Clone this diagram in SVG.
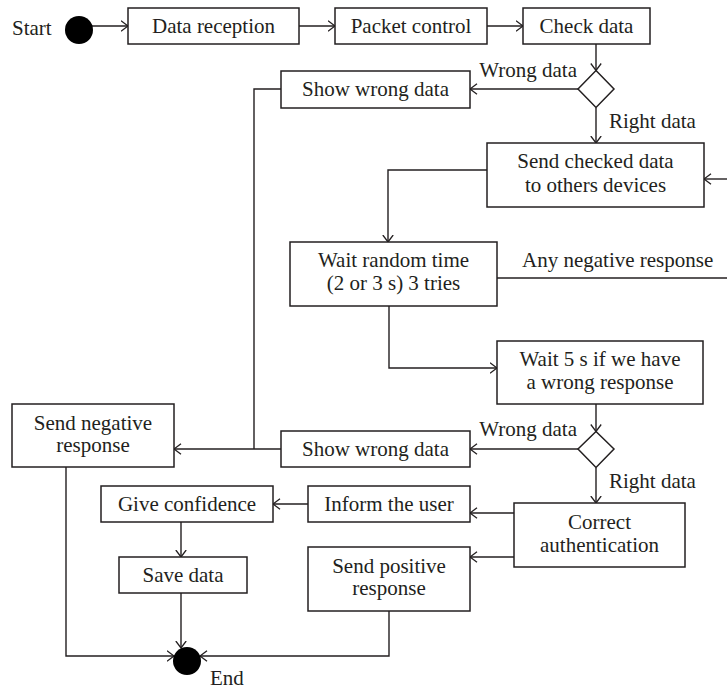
<svg xmlns="http://www.w3.org/2000/svg" width="727" height="690" viewBox="0 0 727 690">
  <defs>
    <marker id="arrow" viewBox="0 0 8 12" refX="7.5" refY="6" markerWidth="8" markerHeight="12" markerUnits="userSpaceOnUse" orient="auto">
      <path d="M0.5,0.8 L7.5,6 L0.5,11.2" fill="none" stroke="#231f20" stroke-width="1.3"/>
    </marker>
    <style>
      .box { fill: #ffffff; stroke: #231f20; stroke-width: 1.5; }
      .dot { fill: #000000; }
      .line { fill: none; stroke: #231f20; stroke-width: 1.4; }
      .arr { marker-end: url(#arrow); }
      text { font-family: "Liberation Serif", "Times New Roman", serif; font-size: 21px; fill: #231f20; }
      .c { text-anchor: middle; }
    </style>
  </defs>

  <rect width="727" height="690" fill="#ffffff"/>

  <!-- connectors -->
  <g id="connectors">
    <path class="line arr" d="M92,26 H128"/>
    <path class="line arr" d="M299,26 H335"/>
    <path class="line arr" d="M487,26 H523"/>
    <path class="line arr" d="M596,44 V70.5"/>
    <path class="line arr" d="M578,89 H470"/>
    <path class="line" d="M281,89 H254 V449"/>
    <path class="line arr" d="M596,107.5 V143"/>
    <path class="line arr" d="M727,179 H704"/>
    <path class="line arr" d="M487,170 H388 V242"/>
    <path class="line" d="M497,278 H727"/>
    <path class="line arr" d="M389,306 V368 H497"/>
    <path class="line arr" d="M596,404 V431.5"/>
    <path class="line arr" d="M578,449 H470"/>
    <path class="line arr" d="M281,449 H174"/>
    <path class="line arr" d="M596,467.5 V503"/>
    <path class="line arr" d="M514,513 H470"/>
    <path class="line arr" d="M514,557 H470"/>
    <path class="line arr" d="M308,504 H273"/>
    <path class="line arr" d="M181,522 V557"/>
    <path class="line arr" d="M181,593 V648"/>
    <path class="line arr" d="M66,467 V656 H174"/>
    <path class="line arr" d="M389,611 V656 H200"/>
    <text x="577" y="77" text-anchor="end">Wrong data</text>
    <text x="609" y="128">Right data</text>
    <text x="522" y="267">Any negative response</text>
    <text x="577" y="436" text-anchor="end">Wrong data</text>
    <text x="609" y="488">Right data</text>
  </g>

  <g id="start">
    <circle class="dot" cx="79" cy="30" r="14"/>
    <text x="12" y="35">Start</text>
  </g>

  <g id="data-reception">
    <rect class="box" x="128" y="8" width="171" height="36"/>
    <text class="c" x="213.5" y="33">Data reception</text>
  </g>

  <g id="packet-control">
    <rect class="box" x="335" y="8" width="152" height="36"/>
    <text class="c" x="411" y="33">Packet control</text>
  </g>

  <g id="check-data">
    <rect class="box" x="523" y="8" width="127" height="36"/>
    <text class="c" x="586.5" y="33">Check data</text>
  </g>

  <g id="decision-1">
    <polygon class="box" points="596,70.5 614,89 596,107.5 578,89"/>
  </g>

  <g id="show-wrong-data-1">
    <rect class="box" x="281" y="71" width="189" height="37"/>
    <text class="c" x="375.5" y="96">Show wrong data</text>
  </g>

  <g id="send-checked-data">
    <rect class="box" x="487" y="143" width="217" height="64"/>
    <text class="c" x="595.5" y="168">Send checked data</text>
    <text class="c" x="595.5" y="192">to others devices</text>
  </g>

  <g id="wait-random">
    <rect class="box" x="290" y="242" width="207" height="64"/>
    <text class="c" x="393.5" y="267">Wait random time</text>
    <text class="c" x="393.5" y="290">(2 or 3 s) 3 tries</text>
  </g>

  <g id="wait-5s">
    <rect class="box" x="497" y="341" width="206" height="63"/>
    <text class="c" x="600" y="366">Wait 5 s if we have</text>
    <text class="c" x="600" y="389">a wrong response</text>
  </g>

  <g id="decision-2">
    <polygon class="box" points="596,431.5 614,449 596,467.5 578,449"/>
  </g>

  <g id="show-wrong-data-2">
    <rect class="box" x="281" y="431" width="189" height="36"/>
    <text class="c" x="375.5" y="456">Show wrong data</text>
  </g>

  <g id="send-negative-response">
    <rect class="box" x="12" y="404" width="162" height="63"/>
    <text class="c" x="93" y="430">Send negative</text>
    <text class="c" x="93" y="452">response</text>
  </g>

  <g id="correct-authentication">
    <rect class="box" x="514" y="503" width="171" height="64"/>
    <text class="c" x="599.5" y="529">Correct</text>
    <text class="c" x="599.5" y="552">authentication</text>
  </g>

  <g id="inform-user">
    <rect class="box" x="308" y="486" width="162" height="36"/>
    <text class="c" x="389" y="511">Inform the user</text>
  </g>

  <g id="give-confidence">
    <rect class="box" x="101" y="486" width="172" height="36"/>
    <text class="c" x="187" y="511">Give confidence</text>
  </g>

  <g id="save-data">
    <rect class="box" x="119" y="557" width="128" height="36"/>
    <text class="c" x="183" y="582">Save data</text>
  </g>

  <g id="send-positive-response">
    <rect class="box" x="308" y="547" width="162" height="64"/>
    <text class="c" x="389" y="573">Send positive</text>
    <text class="c" x="389" y="595">response</text>
  </g>

  <g id="end">
    <circle class="dot" cx="187" cy="661" r="14"/>
    <text x="210" y="685">End</text>
  </g>
</svg>
